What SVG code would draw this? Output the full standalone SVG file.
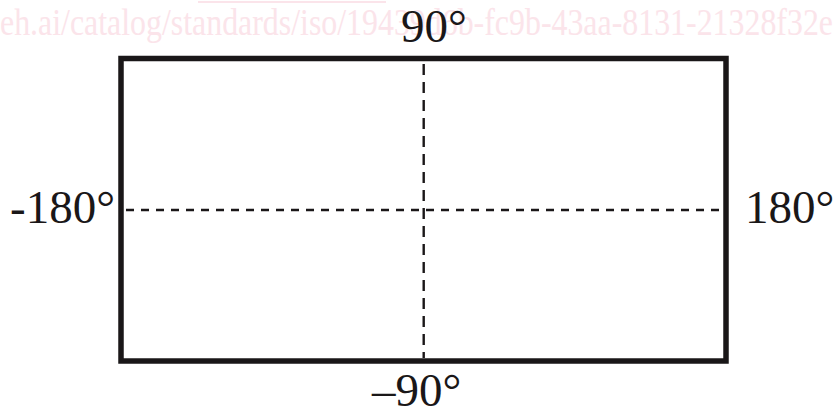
<svg xmlns="http://www.w3.org/2000/svg" width="835" height="417" viewBox="0 0 835 417">
  <style>
    .wm { font-family: "Liberation Serif", "Times New Roman", serif; font-size: 37px; fill: #fbe4ea; }
    .lbl { font-family: "Liberation Serif", "Times New Roman", serif; font-size: 47px; fill: #1a1718; }
    .frame { fill: none; stroke: #1a1718; stroke-width: 5.5; }
    .axis { stroke: #1a1718; stroke-width: 2.4; fill: none; }
  </style>
  <rect width="835" height="417" fill="#ffffff"/>
  <g id="watermark">
    <line x1="198" y1="2" x2="386" y2="2" stroke="#fbe4ea" stroke-width="2"/>
    <text class="wm" x="0" y="35" textLength="833" lengthAdjust="spacingAndGlyphs">eh.ai/catalog/standards/iso/19439d6b-fc9b-43aa-8131-21328f32e</text>
  </g>
  <g id="frame">
    <rect class="frame" x="121" y="58.5" width="605" height="302.5"/>
  </g>
  <g id="connectors">
    <line class="axis" x1="423.7" y1="64" x2="423.7" y2="358" stroke-dasharray="11 7"/>
    <line class="axis" x1="126" y1="210" x2="723" y2="210" stroke-dasharray="8 7"/>
  </g>
  <g id="label-top"><text class="lbl" x="401" y="42">90°</text></g>
  <g id="label-left"><text class="lbl" x="10" y="223">-180°</text></g>
  <g id="label-right"><text class="lbl" x="745" y="223">180°</text></g>
  <g id="label-bottom"><text class="lbl" x="372" y="406">–90°</text></g>
</svg>
